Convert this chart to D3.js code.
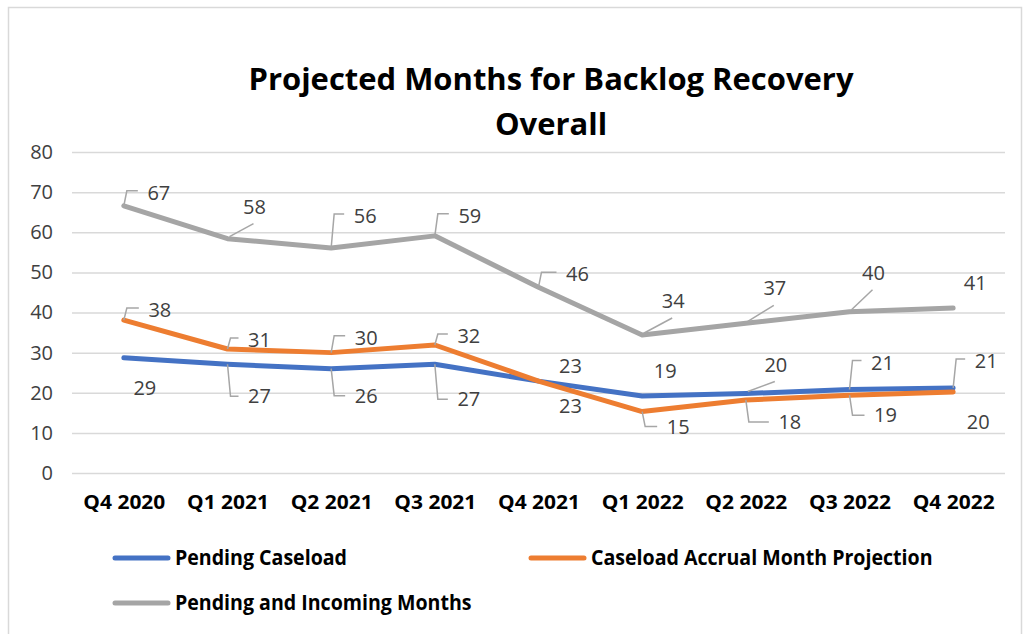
<!DOCTYPE html>
<html>
<head>
<meta charset="utf-8">
<script src="https://cdn.jsdelivr.net/npm/d3@7"></script>
<style>
  body { margin: 0; background: #fff; }
  svg { display: block; }
</style>
</head>
<body>
<div id="chart"></div>
<script>
// data
var quarters = ["Q4 2020", "Q1 2021", "Q2 2021", "Q3 2021", "Q4 2021", "Q1 2022", "Q2 2022", "Q3 2022", "Q4 2022"];
var pendingCaseload = [28.7, 27.1, 26.0, 27.1, 22.9, 19.2, 19.8, 20.8, 21.2];
var accrualProjection = [38.1, 30.9, 30.0, 31.9, 22.9, 15.3, 18.2, 19.4, 20.2];
var pendingIncoming = [66.6, 58.4, 56.1, 59.1, 46.3, 34.4, 37.3, 40.2, 41.1];
var yTicks = [0, 10, 20, 30, 40, 50, 60, 70, 80];

// label placement relative to each point: [dx, dy, leader kind]
var grayLabelPos = [[35,-13,"bu"],[27,-32,"d"],[34,-32,"bu"],[35,-20,"bu"],[39,-13,"bu"],[31,-34,"d"],[29,-35,"d"],[24,-39,"d"],[22,-25,""]];
var orangeLabelPos = [[36,-10,"bu"],[32,-9,"bu"],[35,-15,"bu"],[34,-9,"bu"],[32,25,""],[36,15,"bd"],[44,22,"bd"],[36,20,"bd"],[25,30,""]];
var blueLabelPos = [[21,30,""],[32,32,"bd"],[35,27,"bd"],[34,35,"bd"],[32,-15,""],[23,-25,""],[30,-29,"d"],[33,-27,"bu"],[33,-27,"bu"]];

var series = [
  {name: "Pending Caseload", values: pendingCaseload, color: "#4472C4", labels: blueLabelPos},
  {name: "Caseload Accrual Month Projection", values: accrualProjection, color: "#ED7D31", labels: orangeLabelPos},
  {name: "Pending and Incoming Months", values: pendingIncoming, color: "#A5A5A5", labels: grayLabelPos}
];

var W = 1026, H = 634;
var plotLeft = 72, plotRight = 1005, plotTop = 152, plotBottom = 473;
var font = "'Open Sans', 'Noto Sans', sans-serif";

var svg = d3.select("#chart").append("svg")
  .attr("width", W).attr("height", H)
  .style("font-family", font);

// squeeze a group of texts so the first one gets the given width
function squeeze(sel, width) {
  var natural = sel.node().getComputedTextLength();
  var ratio = width / natural;
  sel.each(function() {
    var w = this.getComputedTextLength();
    d3.select(this).attr("textLength", w * ratio).attr("lengthAdjust", "spacingAndGlyphs");
  });
}

// outer frame
svg.append("rect")
  .attr("x", 8.5).attr("y", 7.5)
  .attr("width", 1013).attr("height", 640)
  .attr("fill", "#fff").attr("stroke", "#D9D9D9").attr("stroke-width", 1.5);

// title
var title = svg.selectAll(".title")
  .data(["Projected Months for Backlog Recovery", "Overall"])
  .enter().append("text")
  .attr("class", "title")
  .attr("x", 551).attr("y", function(d, i) { return 90 + i * 45; })
  .attr("text-anchor", "middle")
  .style("font-size", "30px").style("font-weight", "bold")
  .attr("fill", "#000")
  .text(function(d) { return d; });
squeeze(title, 605);

var x = d3.scalePoint().domain(quarters).range([plotLeft, plotRight]).padding(0.5);
var y = d3.scaleLinear().domain([0, 80]).range([plotBottom, plotTop]);

// y axis + gridlines
var yAxis = svg.append("g")
  .attr("transform", "translate(" + plotLeft + ",0)")
  .call(d3.axisLeft(y).tickValues(yTicks).tickSize(-(plotRight - plotLeft)).tickPadding(19));
yAxis.select(".domain").remove();
yAxis.selectAll("line").attr("stroke", "#D9D9D9").attr("stroke-width", 1.5);
yAxis.selectAll("text")
  .style("font-family", font)
  .style("font-size", "20px").attr("fill", "#404040");

// x axis
var xAxis = svg.append("g")
  .attr("transform", "translate(0," + plotBottom + ")")
  .call(d3.axisBottom(x).tickSize(0).tickPadding(22));
xAxis.select(".domain").remove();
var xText = xAxis.selectAll("text")
  .style("font-family", font)
  .style("font-size", "20px").style("font-weight", "bold")
  .attr("fill", "#000");
squeeze(xText, 82);

// lines
var line = d3.line()
  .x(function(d, i) { return x(quarters[i]); })
  .y(function(d) { return y(d); });

series.forEach(function(s) {
  svg.append("path")
    .datum(s.values)
    .attr("fill", "none")
    .attr("stroke", s.color)
    .attr("stroke-width", 5)
    .attr("stroke-linejoin", "round")
    .attr("stroke-linecap", "round")
    .attr("d", line);
});

// data labels with leader lines
series.forEach(function(s) {
  s.values.forEach(function(v, i) {
    var px = x(quarters[i]), py = y(v);
    var pos = s.labels[i];
    var lx = px + pos[0], ly = py + pos[1];
    var kind = pos[2];
    if (kind == "bu" || kind == "bd") {
      var hy = kind == "bu" ? ly - 2 : ly;
      svg.append("path")
        .attr("d", "M" + px + "," + py + "L" + (px + 3) + "," + hy + "L" + (lx - 21) + "," + hy)
        .attr("fill", "none").attr("stroke", "#A6A6A6").attr("stroke-width", 1.5);
    } else if (kind == "d") {
      svg.append("line")
        .attr("x1", px + 2).attr("y1", py - 2)
        .attr("x2", lx - 1).attr("y2", ly + 17)
        .attr("stroke", "#A6A6A6").attr("stroke-width", 1.5);
    }
    svg.append("text")
      .attr("x", lx).attr("y", ly + 7)
      .attr("text-anchor", "middle")
      .style("font-size", "20px")
      .attr("fill", "#404040")
      .text(Math.round(v));
  });
});

// legend
var legendPos = [[113, 558], [529, 558], [113, 603]];
var legendText = [];
series.forEach(function(s, i) {
  var g = svg.append("g").attr("transform", "translate(" + legendPos[i][0] + "," + legendPos[i][1] + ")");
  g.append("line")
    .attr("x1", 2).attr("x2", 55).attr("y1", 0).attr("y2", 0)
    .attr("stroke", s.color).attr("stroke-width", 5).attr("stroke-linecap", "round");
  legendText.push(g.append("text")
    .attr("x", 62).attr("y", 7)
    .style("font-size", "21px").style("font-weight", "bold")
    .attr("fill", "#000")
    .text(s.name).node());
});
squeeze(d3.selectAll(legendText), 172);
</script>
</body>
</html>
